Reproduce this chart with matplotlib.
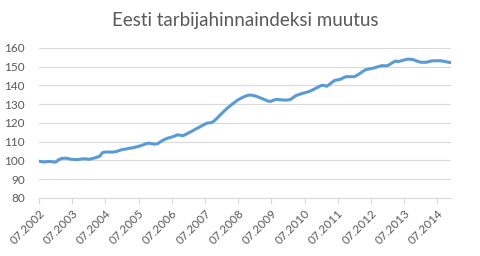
import numpy as np
import matplotlib.pyplot as plt

# Monthly consumer price index, 07.2002 ... 12.2014
cpi = [
    99.6, 99.4, 99.2, 99.4, 99.5, 99.3, 99.1, 100.2, 101.0, 101.2, 101.2, 100.9,
    100.6, 100.5, 100.5, 100.7, 100.9, 100.9, 100.6, 100.9, 101.3, 101.8, 102.3, 104.2,
    104.5, 104.5, 104.5, 104.5, 104.8, 105.3, 105.8, 106.0, 106.3, 106.6, 106.8, 107.2,
    107.5, 108.0, 108.5, 109.1, 109.2, 108.9, 108.7, 109.0, 110.1, 110.9, 111.6, 112.1,
    112.5, 113.0, 113.7, 113.5, 113.2, 113.9, 114.6, 115.4, 116.2, 117.0, 117.8, 118.6,
    119.4, 120.0, 120.1, 120.7, 122.0, 123.5, 125.0, 126.4, 127.8, 129.0, 130.2, 131.3,
    132.4, 133.2, 133.9, 134.5, 134.9, 134.8, 134.5, 134.0, 133.4, 132.8, 132.2, 131.6,
    131.6, 132.3, 132.6, 132.4, 132.3, 132.2, 132.3, 132.6, 133.7, 134.7, 135.2, 135.7,
    136.1, 136.5, 137.0, 137.7, 138.5, 139.2, 140.0, 140.1, 139.6, 140.6, 141.8, 142.8,
    143.0, 143.3, 144.1, 144.7, 144.7, 144.7, 144.7, 145.5, 146.4, 147.4, 148.4, 148.7,
    149.0, 149.3, 149.8, 150.2, 150.6, 150.5, 150.6, 151.4, 152.4, 153.0, 152.8, 153.2,
    153.6, 154.0, 154.0, 153.9, 153.4, 152.8, 152.4, 152.4, 152.4, 152.8, 153.1, 153.2,
    153.2, 153.2, 153.0, 152.7, 152.4, 152.2,
]
start_year = 2002
x_labels = ["07.%d" % (start_year + i) for i in range(13)]
y_ticks = list(range(80, 161, 10))

grey = "#595959"
grid = "#D9D9D9"

fig = plt.figure(figsize=(4.8, 2.56), dpi=100)
ax = fig.add_axes([0.081, 0.2266, 0.859, 0.5859])

x = np.arange(len(cpi))
ax.plot(x, cpi, color="#5B9BD5", linewidth=2.2, solid_capstyle="round")

ax.set_xlim(0, len(cpi) - 1)
ax.set_ylim(80, 160)
ax.set_yticks(y_ticks)
ax.set_yticklabels([str(v) for v in y_ticks], fontsize=8.5, color=grey, family="Lato")
ax.yaxis.grid(True, color=grid, linewidth=0.8)
ax.set_axisbelow(True)
ax.tick_params(axis="y", length=0, pad=10)

ax.set_xticks(np.arange(0, len(cpi), 12))
ax.set_xticklabels(x_labels, rotation=45, ha="right", va="top",
                   rotation_mode="anchor", fontsize=8.5, color=grey, family="Lato")
ax.tick_params(axis="x", length=4, color=grid, width=0.8, pad=3)

for s in ["top", "right", "left"]:
    ax.spines[s].set_visible(False)
ax.spines["bottom"].set_color(grid)
ax.spines["bottom"].set_linewidth(0.8)

fig.text(0.51, 0.92, "Eesti tarbijahinnaindeksi muutus", ha="center", va="center",
         fontsize=13.5, color=grey, family="Lato")

fig.savefig("out.png", dpi=100, facecolor="white")
